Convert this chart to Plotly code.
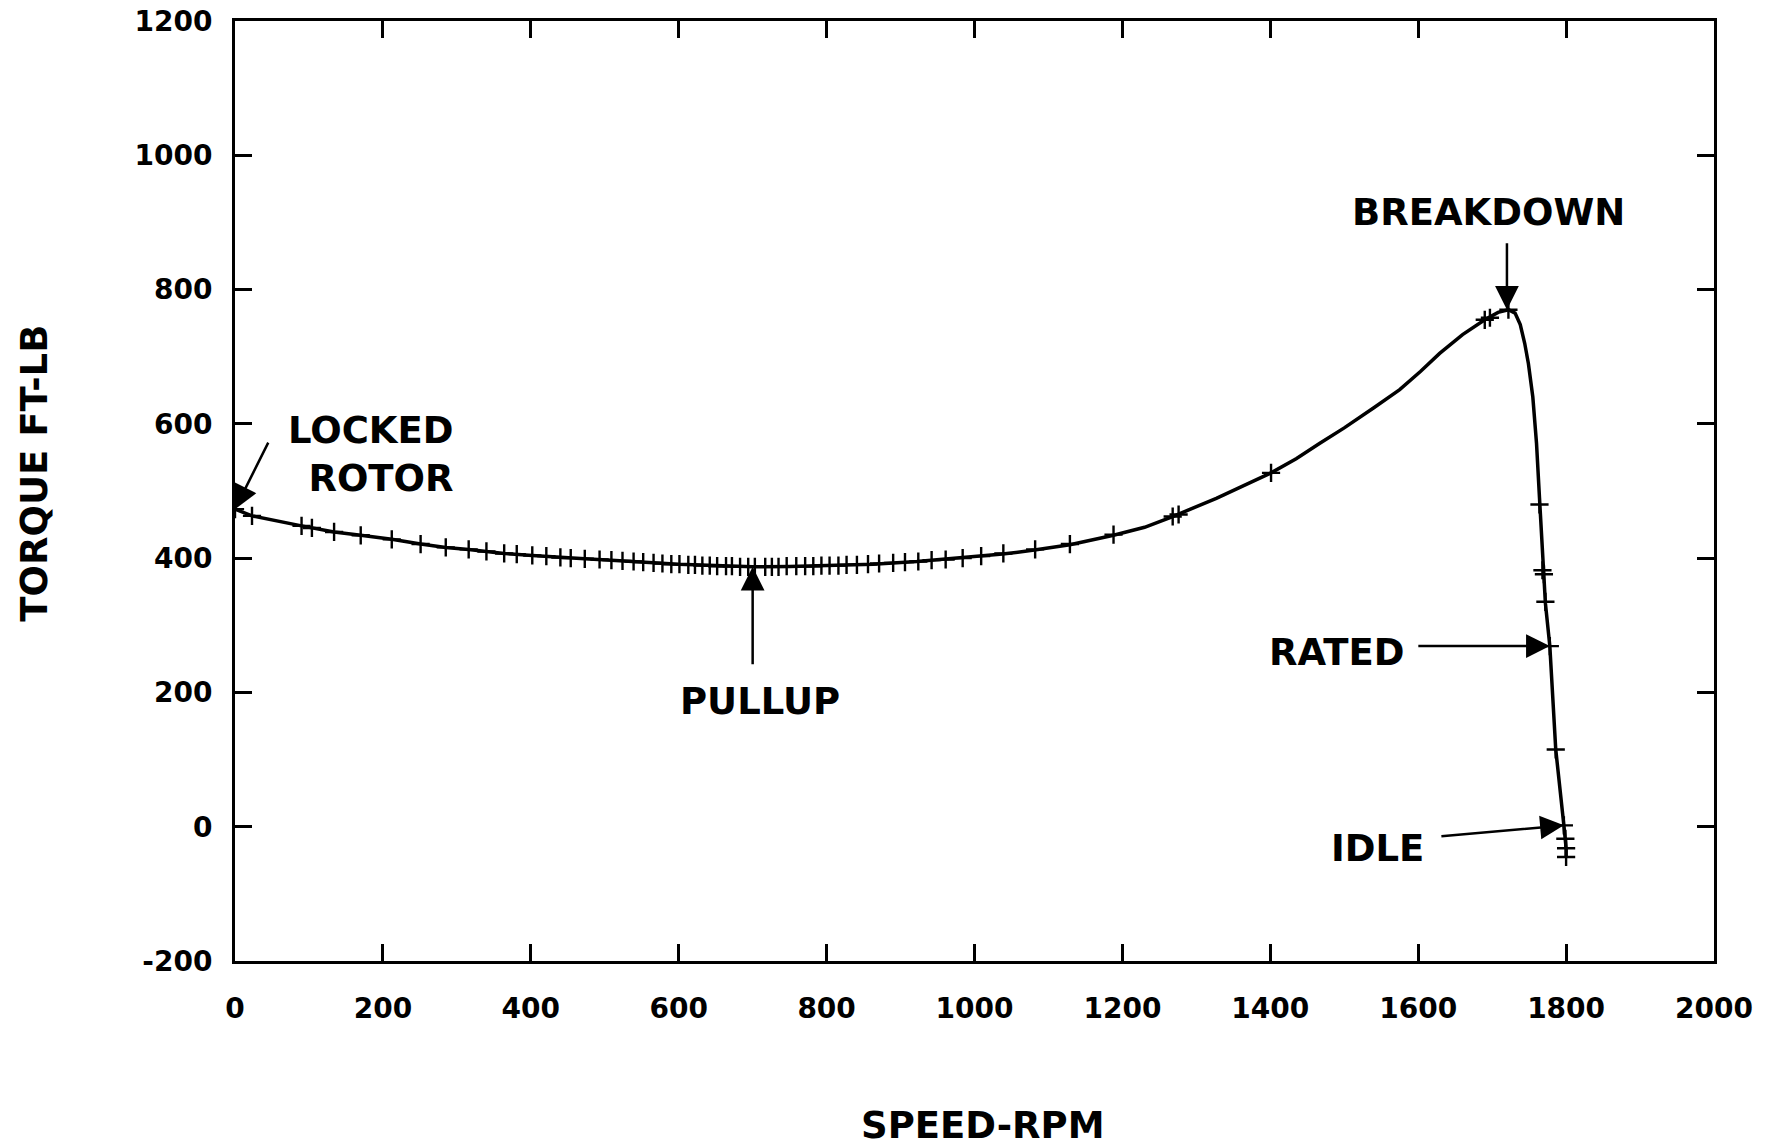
import plotly.graph_objects as go

# Curve (line)
curve_speed = [0, 23, 90, 104, 134, 170, 212, 251, 285, 316, 340, 364, 402, 440, 473, 509, 554, 600, 650, 700,
               750, 800, 863, 922, 980, 1038, 1081, 1129, 1188, 1230, 1268, 1327, 1401, 1435, 1467, 1500, 1540,
               1575, 1603, 1629, 1660, 1690, 1708, 1722, 1731, 1738, 1744, 1749, 1755, 1760, 1764, 1769, 1772,
               1778, 1786, 1797, 1799, 1800, 1800]
curve_torque = [473, 463, 448, 445, 439, 434, 428, 421, 416, 413, 410, 407, 404, 401, 399, 397, 394, 391, 389, 387,
                387.5, 389, 391, 395, 400, 406, 412, 420, 434, 446, 462, 489, 527, 548, 571, 594, 624,
                651, 678, 705, 733, 755, 766, 770, 765, 748, 720, 690, 640, 571, 490, 380, 333,
                269, 115, 2, -18, -32, -45]

# Measured points (+ markers)
point_speed = [0, 23, 90, 104, 134, 170, 212, 251, 285, 316, 340, 364, 381, 402, 421, 440, 454, 473, 493, 509,
               524, 539, 552, 566, 578, 590, 601, 613, 622, 632, 642, 652, 664, 672, 683, 694, 703, 717, 726, 735,
               746, 759, 771, 782, 793, 804, 816, 827, 841, 856, 871, 890, 906, 924, 942, 961, 984, 1009, 1039,
               1082, 1129, 1188, 1268, 1276, 1401, 1690, 1697, 1722, 1764, 1768, 1770, 1772, 1778, 1786, 1797,
               1799, 1800, 1800]
point_torque = [473, 463, 448, 445, 439, 434, 428, 421, 416, 413, 410, 407, 406, 404, 403, 401, 400, 399, 398, 397,
                396, 395, 394, 393, 392, 391, 391, 390, 390, 389, 389, 388, 388, 388, 387, 387, 387, 387, 387, 387,
                388, 388, 388, 388, 389, 389, 389, 390, 390, 391, 392, 393, 394, 395, 397, 398, 400, 403, 407,
                413, 421, 435, 462, 465, 527, 755, 758, 770, 480, 382, 376, 335, 269, 115, 2,
                -18, -32, -45]

x_ticks = [0, 200, 400, 600, 800, 1000, 1200, 1400, 1600, 1800, 2000]
y_ticks = [-200, 0, 200, 400, 600, 800, 1000, 1200]

FONT = "DejaVu Sans"

fig = go.Figure()
fig.add_trace(go.Scatter(x=curve_speed, y=curve_torque, mode="lines",
                         line=dict(color="black", width=3.5), showlegend=False, hoverinfo="skip"))
fig.add_trace(go.Scatter(x=point_speed, y=point_torque, mode="markers",
                         marker=dict(symbol="cross-thin", size=13, line=dict(color="black", width=2.4)),
                         showlegend=False))

axis_common = dict(showgrid=False, zeroline=False, showline=True, linewidth=3, linecolor="black",
                   mirror="ticks", ticks="inside", ticklen=17, tickwidth=3, tickcolor="black", automargin=False,
                   tickfont=dict(family=FONT, size=28, color="black", weight="bold"))

fig.update_xaxes(range=[0, 2000], tickvals=x_ticks, ticktext=[str(v) for v in x_ticks],
                 ticklabelstandoff=20, **axis_common)
fig.update_yaxes(range=[-200, 1200], tickvals=y_ticks, ticktext=[str(v) for v in y_ticks],
                 ticklabelstandoff=14, **axis_common)

afont = dict(family=FONT, size=37, color="black", weight="bold")
arrow = dict(showarrow=True, arrowhead=2, arrowsize=1.9, arrowwidth=2.5, arrowcolor="black", standoff=0)

ann = []
# labels
ann.append(dict(x=299, y=554, text="LOCKED<br>ROTOR", showarrow=False, xanchor="right", align="right", font=afont))
ann.append(dict(x=710, y=186, text="PULLUP", showarrow=False, font=afont))
ann.append(dict(x=1695, y=915, text="BREAKDOWN", showarrow=False, font=afont))
ann.append(dict(x=1490, y=259, text="RATED", showarrow=False, font=afont))
ann.append(dict(x=1545, y=-32, text="IDLE", showarrow=False, font=afont))
# arrows
ann.append(dict(x=0, y=473, text="", ax=34, ay=-68, **arrow))
ann.append(dict(x=700, y=387, text="", ax=0, ay=99, **arrow))
ann.append(dict(x=1720, y=770, text="", ax=0, ay=-68, **arrow))
ann.append(dict(x=1778, y=269, text="", ax=-133, ay=0, **arrow))
ann.append(dict(x=1797, y=2, text="", ax=-124, ay=11, **arrow))
# axis titles
ann.append(dict(x=1012, xref="x", y=-0.1755, yref="paper", text="SPEED-RPM", showarrow=False,
                yanchor="middle", font=afont))
ann.append(dict(x=-0.1358, xref="paper", y=526, yref="y", text="TORQUE FT-LB", showarrow=False,
                textangle=-90, xanchor="center", yanchor="middle", font=afont))

fig.update_layout(width=1778, height=1146, margin=dict(l=235, r=64, t=21, b=185),
                  plot_bgcolor="white", paper_bgcolor="white", annotations=ann)

fig.write_html("out.html")
